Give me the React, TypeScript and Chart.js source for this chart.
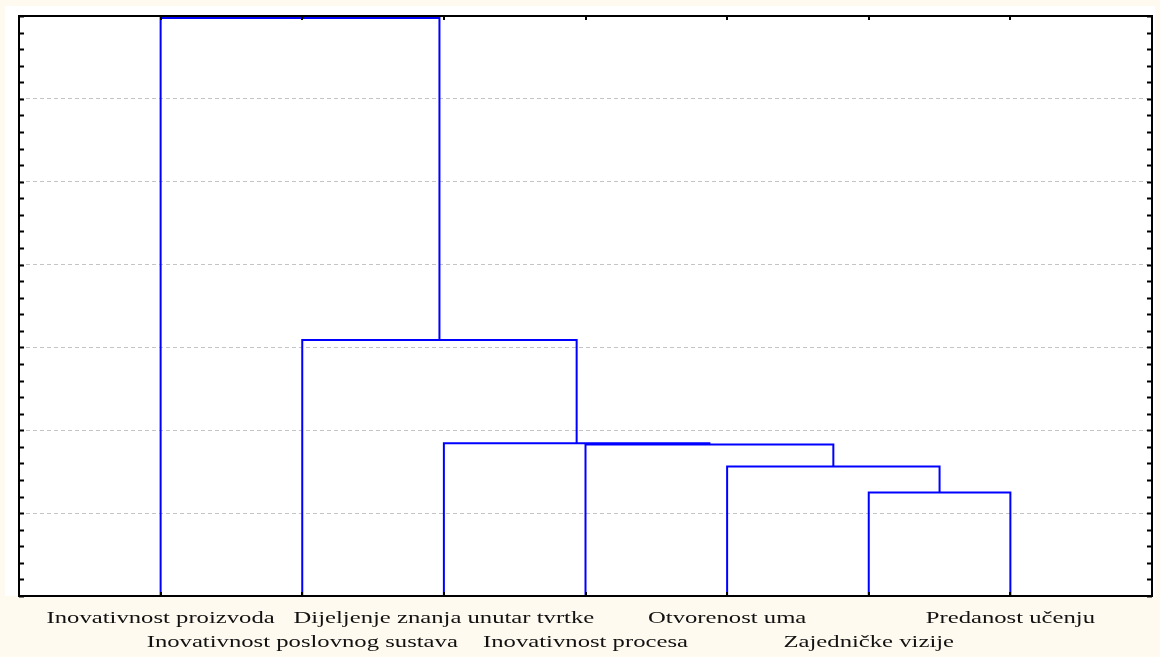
import React, { useEffect, useRef } from "react";
import { Chart, registerables } from "chart.js";

Chart.register(...registerables);

// ---- data ----
const leafLabels = [
  "Inovativnost proizvoda",
  "Inovativnost poslovnog sustava",
  "Dijeljenje znanja unutar tvrtke",
  "Inovativnost procesa",
  "Otvorenost uma",
  "Zajedničke vizije",
  "Predanost učenju",
];
const leafPositions = [1, 2, 3, 4, 5, 6, 7];
// linkage: ids 0..6 are leaves, each merge creates id 7, 8, ...
const mergeLeft = [5, 4, 3, 2, 1, 0];
const mergeRight = [6, 7, 8, 9, 10, 11];
const mergeHeights = [1.25, 1.562, 1.827, 1.844, 3.09, 6.975];

const yMin = 0;
const yMax = 7;
const yMinorStep = 0.2;
const xMin = 0;
const xMax = 8;

const LINE_COLOR = "#0000ff";
const BG = "#fffaf0";

function buildDatasets() {
  const pos: number[] = [...leafPositions];
  const hts: number[] = leafPositions.map(() => 0);
  const sets: any[] = [];
  mergeHeights.forEach((H, k) => {
    const l = mergeLeft[k];
    const r = mergeRight[k];
    sets.push({
      label: "merge " + (k + 1),
      data: [
        { x: pos[l], y: hts[l] },
        { x: pos[l], y: H },
        { x: pos[r], y: H },
        { x: pos[r], y: hts[r] },
      ],
      showLine: true,
      borderColor: LINE_COLOR,
      borderWidth: 2,
      pointRadius: 0,
      pointHoverRadius: 0,
      fill: false,
      tension: 0,
      borderJoinStyle: "miter",
      borderCapStyle: "butt",
    });
    pos.push((pos[l] + pos[r]) / 2);
    hts.push(H);
  });
  return sets;
}

const isMajor = (v: number) => Math.abs(v - Math.round(v)) < 1e-6;

const decorPlugin = {
  id: "decor",
  beforeDraw(chart: any) {
    const { ctx, chartArea: a, width, height } = chart;
    ctx.save();
    ctx.fillStyle = BG;
    ctx.fillRect(0, 0, width, height);
    ctx.fillStyle = "#ffffff";
    ctx.fillRect(5, 6, width - 10, a.bottom - 6);
    ctx.restore();
  },
  afterDraw(chart: any) {
    const { ctx, chartArea: a } = chart;
    const xs = chart.scales.x;
    const ys = chart.scales.y;
    ctx.save();
    // frame
    ctx.strokeStyle = "#000";
    ctx.lineWidth = 2;
    ctx.strokeRect(a.left, a.top, a.right - a.left, a.bottom - a.top);
    // y ticks (inward, both sides)
    ctx.lineWidth = 2;
    ys.ticks.forEach((t: any) => {
      const y = Math.round(ys.getPixelForValue(t.value)) + 0.5;
      ctx.beginPath();
      ctx.moveTo(a.left, y);
      ctx.lineTo(a.left + 5, y);
      ctx.moveTo(a.right, y);
      ctx.lineTo(a.right - 5, y);
      ctx.stroke();
    });
    // x ticks at leaf positions (top and bottom, inward)
    leafPositions.forEach((p) => {
      const x = Math.round(xs.getPixelForValue(p));
      ctx.beginPath();
      ctx.moveTo(x, a.top);
      ctx.lineTo(x, a.top + 4);
      ctx.moveTo(x, a.bottom);
      ctx.lineTo(x, a.bottom - 4);
      ctx.stroke();
    });
    // leaf labels, staggered in two rows
    ctx.fillStyle = "#111";
    ctx.font = '17.5px "Liberation Serif", "Times New Roman", serif';
    ctx.textAlign = "center";
    ctx.textBaseline = "alphabetic";
    leafLabels.forEach((lab, i) => {
      const x = xs.getPixelForValue(leafPositions[i]);
      const y = a.bottom + 27 + (i % 2) * 24;
      ctx.save();
      ctx.translate(x, y);
      ctx.scale(1.41, 1);
      ctx.fillText(lab, 0, 0);
      ctx.restore();
    });
    ctx.restore();
  },
};

export default function App() {
  const ref = useRef<HTMLCanvasElement | null>(null);

  useEffect(() => {
    if (!ref.current) return;
    const chart = new Chart(ref.current, {
      type: "scatter",
      data: { datasets: buildDatasets() },
      options: {
        responsive: false,
        animation: false,
        devicePixelRatio: 1,
        layout: { padding: { left: 19, right: 8, top: 16, bottom: 61 } },
        plugins: {
          legend: { display: false },
          tooltip: { enabled: false },
          title: { display: false },
        },
        scales: {
          x: {
            type: "linear",
            min: xMin,
            max: xMax,
            ticks: { display: false },
            grid: { display: false, drawTicks: false },
            border: { display: false },
          },
          y: {
            type: "linear",
            min: yMin,
            max: yMax,
            ticks: { display: false, stepSize: yMinorStep, maxTicksLimit: 100 },
            grid: {
              drawTicks: false,
              lineWidth: 1,
              color: (c: any) => {
                const v = c.tick ? c.tick.value : 0;
                if (isMajor(v) && v > yMin && v < yMax) return "#c4c4c4";
                return "rgba(0,0,0,0)";
              },
            },
            border: { display: false, dash: [4, 3] },
          },
        },
      },
      plugins: [decorPlugin],
    });
    return () => chart.destroy();
  }, []);

  return (
    <div style={{ position: "fixed", left: 0, top: 0, width: 1160, height: 657, background: BG }}>
      <canvas ref={ref} width={1160} height={657} style={{ display: "block" }} />
    </div>
  );
}
